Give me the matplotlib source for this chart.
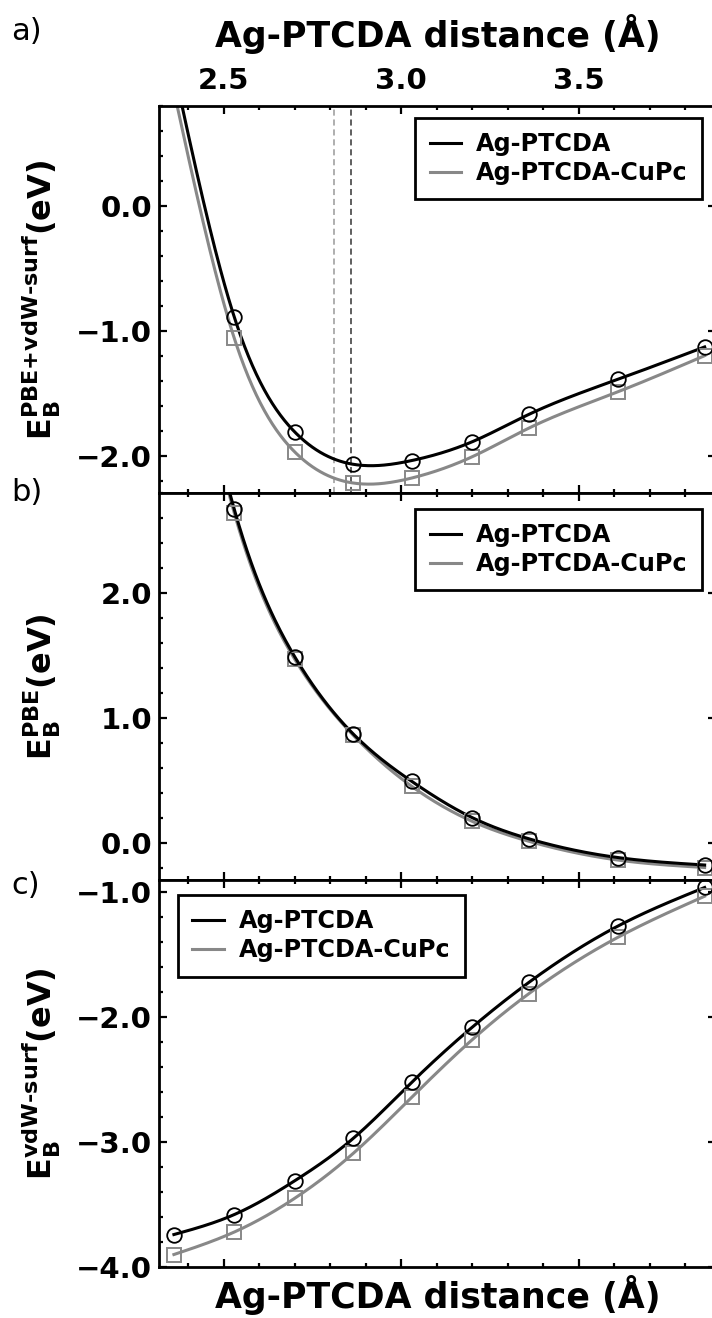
import numpy as np
import matplotlib
matplotlib.use('Agg')
import matplotlib.pyplot as plt
from matplotlib.ticker import MultipleLocator, FuncFormatter

# ---------------- data ----------------
dist = [2.36, 2.53, 2.70, 2.865, 3.03, 3.20, 3.36, 3.61, 3.855]

tot_ptcda = [1.10, -0.89, -1.81, -2.07, -2.04, -1.89, -1.67, -1.39, -1.13]
tot_cupc = [0.92, -1.06, -1.97, -2.22, -2.18, -2.01, -1.78, -1.49, -1.20]

pbe_ptcda = [4.84, 2.67, 1.49, 0.87, 0.49, 0.20, 0.03, -0.12, -0.18]
pbe_cupc = [4.82, 2.64, 1.47, 0.86, 0.45, 0.17, 0.01, -0.14, -0.20]

vdw_ptcda = [-3.74, -3.58, -3.31, -2.97, -2.52, -2.08, -1.72, -1.27, -0.96]
vdw_cupc = [-3.90, -3.72, -3.45, -3.09, -2.64, -2.18, -1.81, -1.36, -1.03]

eq_ptcda = 2.86
eq_cupc = 2.81

series_names = ["Ag-PTCDA", "Ag-PTCDA-CuPc"]
panel_letters = ["a)", "b)", "c)"]
HY = "\u2010"
ylabels = ["$\\mathbf{E_B^{PBE{+}vdW" + HY + "surf}(eV)}$",
           "$\\mathbf{E_B^{PBE}(eV)}$",
           "$\\mathbf{E_B^{vdW" + HY + "surf}(eV)}$"]
xlabel = "Ag-PTCDA distance (\u00c5)"


def natural_spline(x, y, xs):
    x = np.asarray(x, float)
    y = np.asarray(y, float)
    n = len(x)
    h = np.diff(x)
    A = np.zeros((n, n))
    r = np.zeros(n)
    A[0, 0] = 1.0
    A[-1, -1] = 1.0
    for i in range(1, n - 1):
        A[i, i - 1] = h[i - 1]
        A[i, i] = 2 * (h[i - 1] + h[i])
        A[i, i + 1] = h[i]
        r[i] = 3 * ((y[i + 1] - y[i]) / h[i] - (y[i] - y[i - 1]) / h[i - 1])
    c = np.linalg.solve(A, r)
    b = (y[1:] - y[:-1]) / h - h * (2 * c[:-1] + c[1:]) / 3
    d = (c[1:] - c[:-1]) / (3 * h)
    idx = np.clip(np.searchsorted(x, xs) - 1, 0, n - 2)
    dx = xs - x[idx]
    return y[idx] + b[idx] * dx + c[idx] * dx ** 2 + d[idx] * dx ** 3


plt.rcParams['font.family'] = ['DejaVu Sans']
plt.rcParams['mathtext.fontset'] = 'dejavusans'
plt.rcParams['mathtext.default'] = 'bf'

W, H = 712, 1318
fig = plt.figure(figsize=(W / 100, H / 100), dpi=100)

L, R = 159, 716
tops = [106, 493, 880]
hgt = 387
ylims = [(-2.3, 0.8), (-0.3, 2.8), (-4.0, -0.9)]
data = [(tot_ptcda, tot_cupc), (pbe_ptcda, pbe_cupc), (vdw_ptcda, vdw_cupc)]
x_left = 2.318
x_right = x_left + (R - L) / 355.0

BLACK = '#000000'
GRAY = '#888888'
fmt = FuncFormatter(lambda v, p: ('%.1f' % v).replace('-', '\u2212'))

xs = np.linspace(min(dist), max(dist), 400)
axes = []
for i in range(3):
    ax = fig.add_axes([L / W, 1 - (tops[i] + hgt) / H, (R - L) / W, hgt / H])
    axes.append(ax)
    yb, yc = data[i]
    ax.plot(xs, natural_spline(dist, yc, xs), color=GRAY, lw=2.2, label=series_names[1], zorder=2)
    ax.plot(xs, natural_spline(dist, yb, xs), color=BLACK, lw=2.2, label=series_names[0], zorder=3)
    ax.plot(dist, yc, ls='none', marker='s', ms=9.5, mfc='none', mec=GRAY, mew=1.4, zorder=4)
    ax.plot(dist, yb, ls='none', marker='o', ms=10.5, mfc='none', mec=BLACK, mew=1.3, zorder=5)
    ax.set_xlim(x_left, x_right)
    ax.set_ylim(*ylims[i])
    ax.xaxis.set_major_locator(MultipleLocator(0.5))
    ax.xaxis.set_minor_locator(MultipleLocator(0.1))
    ax.yaxis.set_major_locator(MultipleLocator(1.0))
    ax.yaxis.set_minor_locator(MultipleLocator(0.2))
    ax.xaxis.set_major_formatter(fmt)
    ax.yaxis.set_major_formatter(fmt)
    ax.tick_params(which='both', direction='in', top=True, bottom=True, left=True, right=True,
                   labelbottom=False, labeltop=False, width=1.6)
    ax.tick_params(which='major', length=6)
    ax.tick_params(which='minor', length=3)
    ax.tick_params(axis='y', labelsize=21, pad=5)
    for lab in ax.get_yticklabels():
        lab.set_fontweight('bold')
    for s in ax.spines.values():
        s.set_linewidth(2.0)
    ax.set_ylabel(ylabels[i], fontsize=23)
    ax.yaxis.set_label_coords(-0.173, 0.5)
    fig.text(11 / W, 1 - [32, 493, 885][i] / H, panel_letters[i], fontsize=22,
             ha='left', va='center')

# top panel: x labels on top
ax0 = axes[0]
ax0.tick_params(axis='x', labeltop=True, labelsize=21, pad=8)
for lab in ax0.get_xticklabels():
    lab.set_fontweight('bold')
ax0.xaxis.set_label_position('top')
ax0.set_xlabel(xlabel, fontsize=25, fontweight='bold', labelpad=14)
ax0.axvline(eq_cupc, color='#999999', lw=1.1, ls=(0, (4, 2.5)), zorder=1)
ax0.axvline(eq_ptcda, color='#333333', lw=1.1, ls=(0, (4, 2.5)), zorder=1)

axes[2].set_xlabel(xlabel, fontsize=25, fontweight='bold', labelpad=6)

leg_anchor = [((0.975, 0.969), 'upper right'), ((0.975, 0.959), 'upper right'),
              ((0.034, 0.961), 'upper left')]
for ax, (anc, loc) in zip(axes, leg_anchor):
    h_, l_ = ax.get_legend_handles_labels()
    leg = ax.legend(h_[::-1], l_[::-1], loc=loc, bbox_to_anchor=anc, borderaxespad=0,
                    fancybox=False, framealpha=1, edgecolor='black',
                    prop={'weight': 'bold', 'size': 17.2}, handlelength=1.32,
                    handletextpad=0.63, borderpad=0.6, labelspacing=0.2)
    leg.get_frame().set_linewidth(2.0)

fig.savefig('out.png', dpi=100)
